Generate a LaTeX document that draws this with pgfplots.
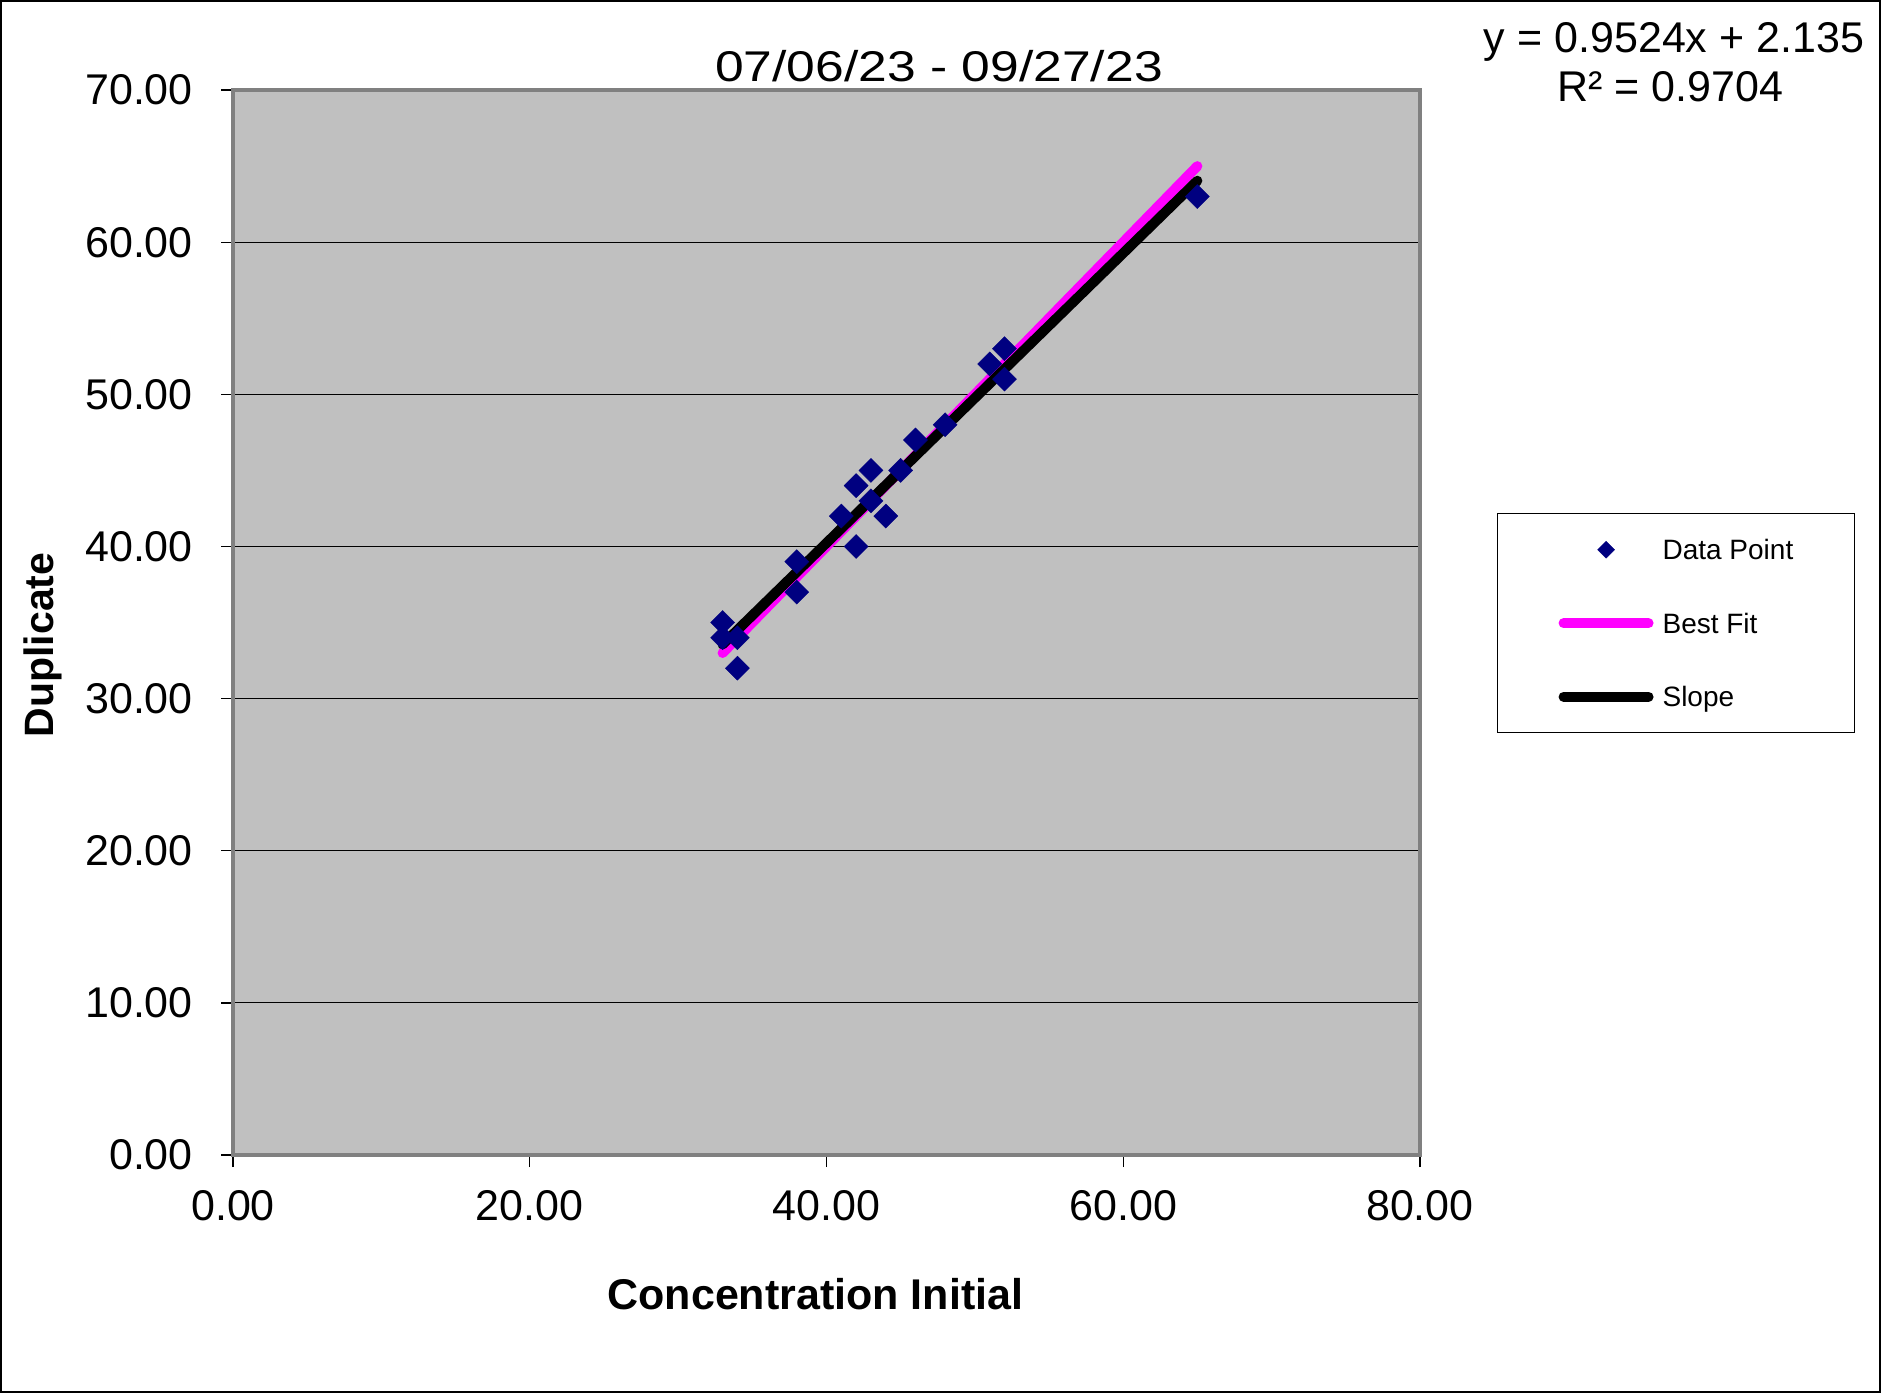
\documentclass[border=0pt]{standalone}
\usepackage{pgfplots}
\pgfplotsset{compat=1.18}
\usepackage{graphicx}
\usepackage{fontspec}
\setmainfont{Liberation Sans}
\definecolor{plotbg}{HTML}{C0C0C0}
\definecolor{framegray}{HTML}{808080}
\definecolor{navyd}{HTML}{000080}
\definecolor{magbf}{HTML}{FF00FF}
\newcommand{\fs}[1]{\fontsize{#1}{#1}\selectfont}
\pgfplotsset{
  markleg/.style={legend image code/.code={\path[draw=none] (0pt,0pt) -- (95pt,0pt); \draw[##1, only marks, mark size=6pt] plot coordinates {(47.5pt,0pt)};}},
  lineleg/.style={legend image code/.code={\draw[##1, line cap=round] (5pt,0pt) -- (90pt,0pt);}},
}
\begin{document}
\begin{tikzpicture}
\path[use as bounding box] (0pt,0pt) rectangle (1881pt,1393pt);
\begin{axis}[
  at={(233pt,238pt)}, anchor=south west,
  scale only axis, width=1187pt, height=1065pt,
  xmin=0, xmax=80, ymin=0, ymax=70,
  xtick={0,20,...,80}, ytick={0,10,...,70},
  tick pos=left, tick align=outside,
  major tick length=12pt,
  major tick style={black, line width=1.3pt},
  axis line style={framegray, line width=4pt},
  axis background/.style={fill=plotbg},
  ymajorgrids, major grid style={black, line width=1.2pt},
  /pgf/number format/.cd, fixed, fixed zerofill, precision=2, assume math mode=true,
  /pgfplots/.cd,
  tick label style={font=\fs{43}, inner sep=0pt},
  yticklabel style={anchor=east, xshift=-28pt},
  xticklabel style={anchor=north, yshift=-23pt},
  xlabel={Concentration Initial},
  xlabel style={font=\fs{43}\bfseries, at={(axis description cs:0.4907,-0.1455)}, anchor=base},
  ylabel={Duplicate},
  ylabel style={font=\fs{41}\bfseries, at={(axis description cs:-0.1515,0.4789)}, anchor=base},
  legend cell align=left,
  legend style={at={(1.0649,0.6028)}, anchor=north west, draw=black, line width=1.3pt, fill=white,
    inner xsep=61pt, inner ysep=26pt, row sep=53.5pt, column sep=9pt, font=\fs{28},
    nodes={inner sep=0pt, text height=20pt, text depth=0pt}},
]
\addplot[only marks, mark=square*, mark size=8.5pt,
  mark options={rotate=45, fill=navyd, draw=navyd, line width=0.4pt}, markleg]
coordinates {
(33,35) (33,34) (34,34) (34,32) (38,39) (38,37) (41,42) (42,44) (42,40)
(43,45) (43,43) (44,42) (45,45) (46,47) (48,48) (51,52) (52,53) (52,51) (65,63)
};
\addlegendentry{Data Point}
\addplot[magbf, line width=10pt, line cap=round, lineleg]
coordinates {(33,33) (65,65)};
\addlegendentry{Best Fit}
\addplot[black, line width=10pt, line cap=round, lineleg]
coordinates {(33,33.56) (65,64.04)};
\addlegendentry{Slope}
\end{axis}
\node[anchor=base, font=\fs{43}] at (939pt,1311pt) {\scalebox{1.2}[1]{07/06/23 - 09/27/23}};
\node[anchor=base, font=\fs{43}] at (1674pt,1340pt) {y = 0.9524x + 2.135};
\node[anchor=base, font=\fs{43}] at (1670pt,1291pt) {R² = 0.9704};
\draw[black, line width=2pt] (1pt,1pt) rectangle (1880pt,1392pt);
\end{tikzpicture}
\end{document}
